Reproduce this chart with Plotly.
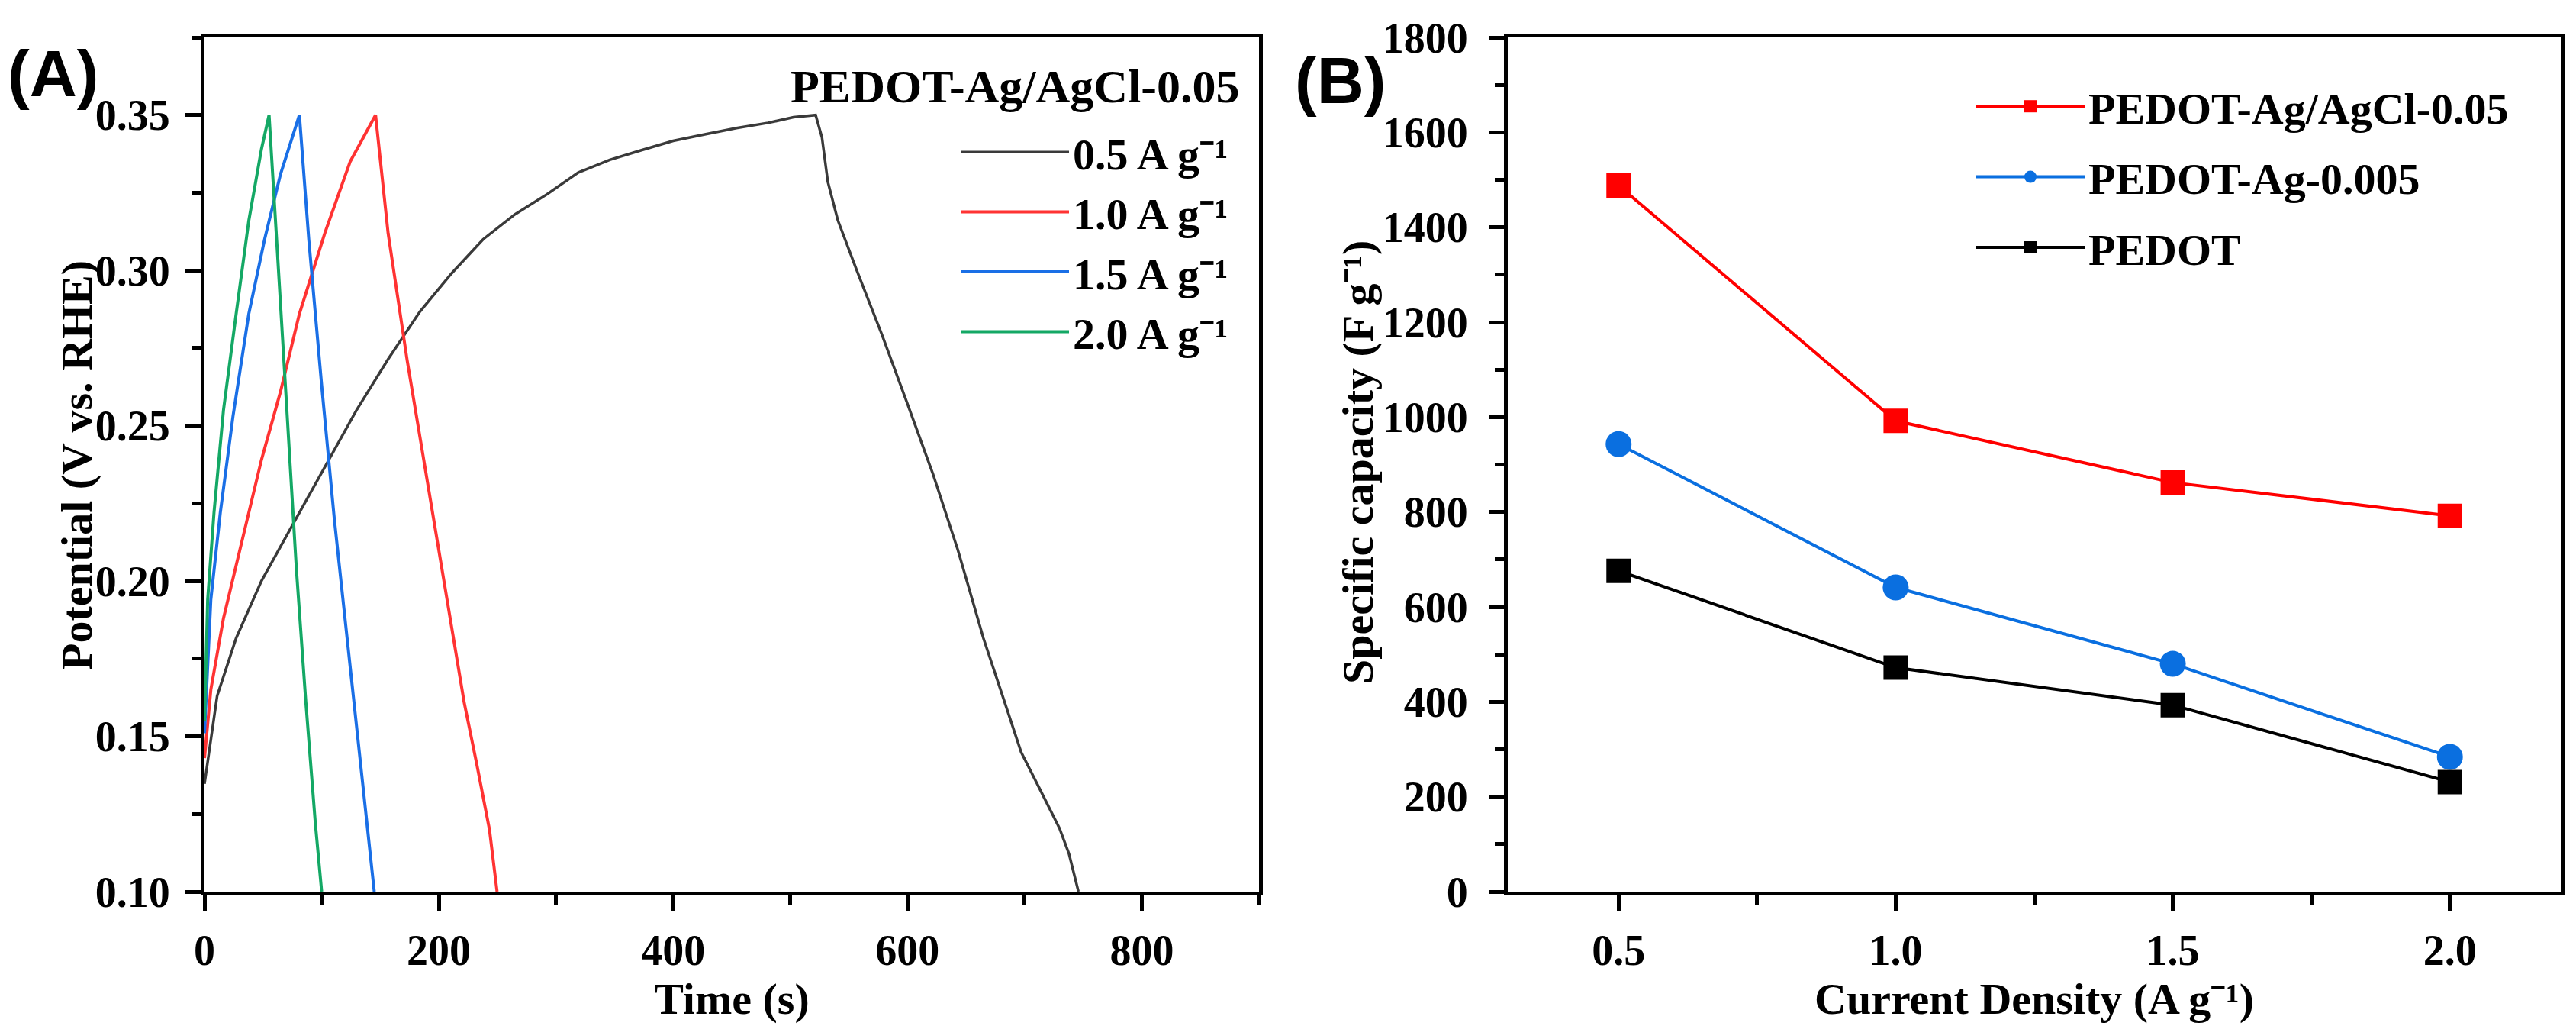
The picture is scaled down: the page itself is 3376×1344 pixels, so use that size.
import plotly.graph_objects as go

W, H = 3376, 1344
OFF = 8  # the page body margin that offsets the figure in the browser


def px(xp):
    """page x pixel -> paper fraction"""
    return (xp - OFF) / W


def py(yp):
    """page y pixel (from top) -> paper fraction"""
    return 1 - (yp - OFF) / H


# ---------------- Panel A: GCD curves (Time s, Potential V vs RHE) ----------------
t_05 = [0, 10.8, 27, 48.6, 75.7, 102.7, 129.7, 156.7, 183.8, 210.8, 237.8, 264.8, 291.9,
        318.9, 345.9, 372.9, 400, 427, 454, 481, 502.7, 521.6, 527, 532, 540.5, 556.7, 578,
        600, 621.6, 643, 664.8, 681, 697, 713.5, 729.7, 737.8, 745.9]
v_05 = [0.1347, 0.163, 0.1816, 0.200, 0.2184, 0.2367, 0.255, 0.2714, 0.2867, 0.299, 0.310,
        0.318, 0.3244, 0.3315, 0.3356, 0.3387, 0.3417, 0.3438, 0.3458, 0.3475, 0.3493, 0.350,
        0.3428, 0.3285, 0.3162, 0.300, 0.2795, 0.257, 0.2346, 0.210, 0.1816, 0.1632, 0.1449,
        0.1326, 0.1204, 0.1122, 0.100]

t_10 = [0, 5.4, 16.2, 32.4, 48.6, 64.9, 81, 102.7, 124.3, 146, 156.7, 173, 189, 205.4,
        221.6, 232.4, 243.2, 249.7]
v_10 = [0.143, 0.165, 0.188, 0.214, 0.239, 0.261, 0.286, 0.312, 0.335, 0.350, 0.312, 0.271,
        0.235, 0.198, 0.161, 0.141, 0.120, 0.100]

t_15 = [0, 5.4, 13.5, 24.3, 37.8, 51.3, 64.9, 81, 89, 100, 110.8, 121.6, 132.4, 140.5, 144.9]
v_15 = [0.151, 0.194, 0.222, 0.253, 0.286, 0.310, 0.331, 0.350, 0.310, 0.263, 0.220, 0.182,
        0.143, 0.114, 0.100]

t_20 = [0, 2.7, 8.1, 16.2, 27, 37.8, 48.6, 55.1, 62.2, 70.3, 78.4, 86.5, 94.6, 100]
v_20 = [0.155, 0.194, 0.222, 0.255, 0.286, 0.316, 0.339, 0.350, 0.306, 0.255, 0.204, 0.161,
        0.122, 0.100]

gcd_names = ["0.5 A g⁻¹", "1.0 A g⁻¹", "1.5 A g⁻¹", "2.0 A g⁻¹"]
gcd_colors = ["#3a3a3a", "#ff3333", "#1a6fe6", "#14a865"]

# ---------------- Panel B: specific capacity vs current density ----------------
density = [0.5, 1.0, 1.5, 2.0]
cap_agcl = [1488, 992, 862, 792]
cap_ag = [943, 641, 480, 284]
cap_pedot = [676, 472, 393, 231]
b_names = ["PEDOT-Ag/AgCl-0.05", "PEDOT-Ag-0.005", "PEDOT"]
b_colors = ["#ff0000", "#0a6fe0", "#000000"]
b_symbols = ["square", "circle", "square"]

SERIF = "Liberation Serif"

fig = go.Figure()

for t, v, name, col, w in zip([t_05, t_10, t_15, t_20], [v_05, v_10, v_15, v_20],
                              gcd_names, gcd_colors, [3.5, 4, 4, 4]):
    fig.add_trace(go.Scatter(x=t, y=v, mode="lines", name=name,
                             line=dict(color=col, width=w),
                             xaxis="x", yaxis="y", legend="legend"))

for vals, name, col, sym, sz in zip([cap_agcl, cap_ag, cap_pedot], b_names, b_colors,
                                    b_symbols, [32, 34, 32]):
    fig.add_trace(go.Scatter(x=density, y=vals, mode="lines+markers", name=name,
                             line=dict(color=col, width=4),
                             marker=dict(symbol=sym, size=sz, color=col),
                             xaxis="x2", yaxis="y2", legend="legend2", legendgroup=name))

tickfont = dict(family=SERIF, size=56, color="black", weight="bold")
titlefont = dict(family=SERIF, size=58, color="black", weight="bold")


def axis_style(**kw):
    d = dict(showline=True, linecolor="black", linewidth=5, mirror=True,
             ticks="outside", ticklen=20, tickwidth=5, tickcolor="black",
             showgrid=False, zeroline=False, tickfont=tickfont, automargin=False,
             minor=dict(ticks="outside", ticklen=12, tickwidth=5, tickcolor="black",
                        showgrid=False))
    d.update(kw)
    return d


yb, yt = py(1168), py(49)

fig.update_layout(
    template="none",
    width=W, height=H,
    margin=dict(l=0, r=0, t=0, b=0, pad=0, autoexpand=False),
    paper_bgcolor="white", plot_bgcolor="white",
    showlegend=True,
    xaxis=axis_style(domain=[px(268), px(1650)], range=[0, 900], tick0=0, dtick=200,
                     ticklabelstandoff=4,
                     minor_dtick=100, anchor="y",
                     title=dict(text="Time (s)", font=titlefont, standoff=0)),
    yaxis=axis_style(domain=[yb, yt], range=[0.1, 0.375], tick0=0.1, dtick=0.05,
                     tickformat=".2f", minor_dtick=0.025, anchor="x",
                     ticklabelstandoff=9),
    xaxis2=axis_style(domain=[px(1976), px(3356)], range=[0.3, 2.2], tick0=0.5, dtick=0.5,
                      tickformat=".1f", minor=dict(ticks="outside", ticklen=12, tickwidth=5,
                                                   tickcolor="black", dtick=0.25, tick0=0.25,
                                                   showgrid=False),
                      ticklabelstandoff=4, anchor="y2",
                      title=dict(text="Current Density (A g⁻¹)", font=titlefont,
                                 standoff=0)),
    yaxis2=axis_style(domain=[yb, yt], range=[0, 1800], tick0=0, dtick=200,
                      minor_dtick=100, anchor="x2", ticklabelstandoff=16),
    legend=dict(x=px(1254), y=py(155), xanchor="left", yanchor="top",
                bgcolor="rgba(0,0,0,0)", borderwidth=0, itemwidth=142,
                font=dict(family=SERIF, size=58, color="black", weight="bold")),
    legend2=dict(x=px(2585), y=py(95), xanchor="left", yanchor="top",
                 bgcolor="rgba(0,0,0,0)", borderwidth=0, traceorder="grouped",
                 tracegroupgap=14, itemwidth=142,
                 font=dict(family=SERIF, size=58, color="black", weight="bold")),
    annotations=[
        dict(text="PEDOT-Ag/AgCl-0.05", xref="paper", yref="paper", x=px(1626),
             y=py(113), xanchor="right", yanchor="middle", showarrow=False,
             font=dict(family=SERIF, size=62, color="black", weight="bold")),
        dict(text="Potential (V vs. RHE)", xref="paper", yref="paper", x=px(100),
             y=py(610), xanchor="center", yanchor="middle", textangle=-90,
             showarrow=False, font=titlefont),
        dict(text="Specific capacity (F g⁻¹)", xref="paper", yref="paper", x=px(1779),
             y=py(606), xanchor="center", yanchor="middle", textangle=-90,
             showarrow=False, font=titlefont),
        dict(text="(A)", xref="paper", yref="paper", x=px(8), y=py(96),
             xanchor="left", yanchor="middle", showarrow=False,
             font=dict(family="Liberation Sans", size=86, color="black", weight="bold")),
        dict(text="(B)", xref="paper", yref="paper", x=px(1695), y=py(105),
             xanchor="left", yanchor="middle", showarrow=False,
             font=dict(family="Liberation Sans", size=86, color="black", weight="bold")),
    ],
)

fig.write_html("out.html")
